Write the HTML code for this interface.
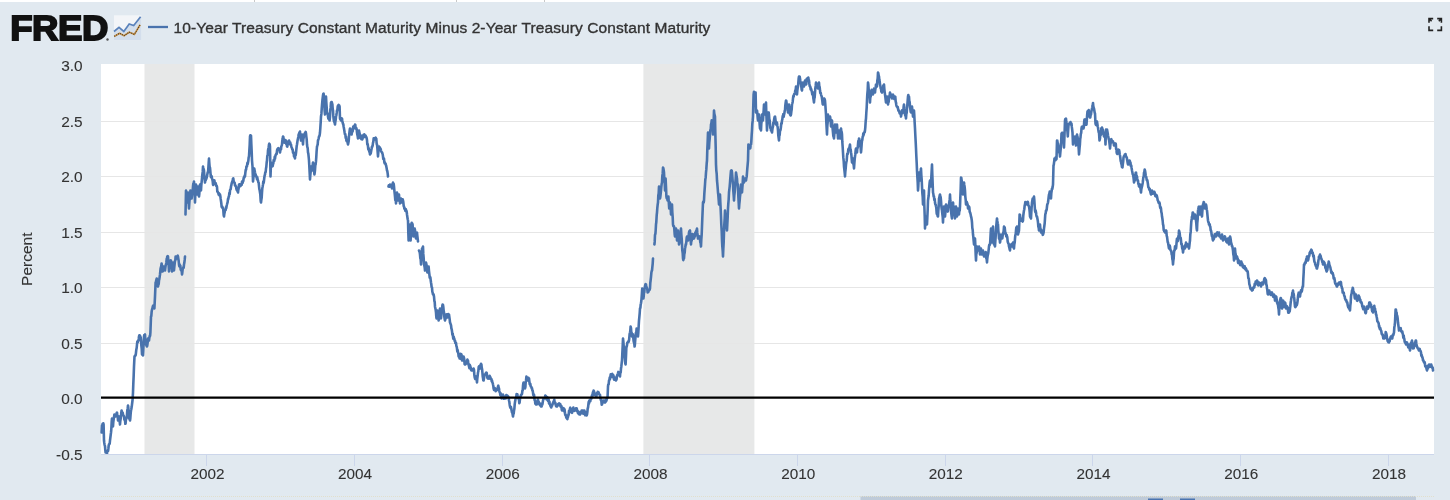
<!DOCTYPE html>
<html><head><meta charset="utf-8"><title>FRED</title>
<style>
html,body{margin:0;padding:0;}
body{width:1450px;height:500px;overflow:hidden;background:#e1e9f0;position:relative;font-family:"Liberation Sans",sans-serif;}
.top{position:absolute;left:0;top:0;width:1450px;height:2px;background:#fff;}
</style></head><body>
<div class="top"></div><div style="position:absolute;left:254px;top:0;width:1px;height:2px;background:#c8c8c8"></div><div style="position:absolute;left:456px;top:0;width:1px;height:2px;background:#c8c8c8"></div><div style="position:absolute;left:544px;top:0;width:1px;height:2px;background:#c8c8c8"></div>
<svg width="1450" height="500" viewBox="0 0 1450 500" style="position:absolute;left:0;top:0"><rect x="101" y="64" width="1333" height="390" fill="#ffffff"/><rect x="144.5" y="64" width="50" height="390" fill="#e7e8e8"/><rect x="643.4" y="64" width="111" height="390" fill="#e7e8e8"/><line x1="101" x2="1434" y1="121.5" y2="121.5" stroke="#e6e6e6" stroke-width="1"/><line x1="101" x2="1434" y1="176.5" y2="176.5" stroke="#e6e6e6" stroke-width="1"/><line x1="101" x2="1434" y1="232.5" y2="232.5" stroke="#e6e6e6" stroke-width="1"/><line x1="101" x2="1434" y1="287.5" y2="287.5" stroke="#e6e6e6" stroke-width="1"/><line x1="101" x2="1434" y1="343.5" y2="343.5" stroke="#e6e6e6" stroke-width="1"/><path d="M101.6,432.5 L102.0,425.5 L102.3,424.7 L102.6,423.8 L103.0,425.4 L103.3,423.2 L103.6,424.5 L104.0,440.5 L104.3,443.0 L104.6,444.8 L105.0,446.1 L105.3,450.1 L105.6,452.5 L105.9,451.1 L106.3,452.8 L106.7,451.7 L107.0,453.5 L107.3,450.8 L107.7,450.7 L108.1,450.9 L108.4,448.5 L108.7,445.5 L109.0,444.3 L109.4,444.2 L109.7,443.7 L110.0,440.5 L110.3,438.1 L110.7,434.8 L111.0,432.5 L111.3,429.5 L111.7,421.5 L112.0,418.5 L112.3,422.5 L112.7,423.1 L113.0,426.5 L113.3,422.2 L113.7,419.1 L114.1,416.8 L114.4,414.5 L114.8,416.3 L115.2,414.7 L115.6,416.5 L115.9,415.8 L116.3,415.0 L116.7,413.0 L117.0,412.5 L117.3,415.3 L117.7,416.3 L118.0,420.5 L118.3,417.6 L118.7,416.8 L119.0,416.5 L119.3,419.8 L119.7,421.6 L120.0,424.5 L120.3,421.0 L120.6,419.2 L121.0,415.9 L121.3,412.6 L121.6,410.5 L121.9,412.6 L122.3,413.2 L122.7,412.6 L123.0,414.5 L123.3,415.4 L123.7,415.9 L124.0,416.5 L124.3,419.3 L124.6,420.1 L125.0,419.9 L125.3,423.8 L125.6,423.5 L125.9,419.9 L126.3,418.7 L126.7,417.7 L127.0,414.5 L127.3,410.2 L127.7,408.5 L128.0,405.5 L128.3,407.5 L128.7,413.4 L129.0,416.5 L129.3,418.8 L129.7,419.4 L130.0,420.5 L130.3,418.5 L130.7,413.2 L131.0,410.5 L131.3,409.2 L131.7,406.8 L132.0,404.5 L132.6,399.5 L133.0,392.5 L133.3,384.1 L133.7,375.0 L134.0,366.5 L134.5,356.5 L135.0,355.5 L135.3,355.7 L135.7,355.1 L136.0,352.5 L136.3,349.7 L136.7,347.8 L137.0,344.5 L137.3,341.6 L137.7,342.6 L138.0,341.0 L138.3,340.9 L138.7,339.0 L139.0,336.5 L139.3,335.4 L139.7,335.4 L140.0,335.5 L140.3,337.8 L140.7,337.1 L141.0,340.5 L141.3,345.0 L141.7,348.6 L142.0,354.5 L142.3,353.5 L142.7,353.6 L143.0,355.5 L143.3,350.1 L143.7,341.5 L144.0,336.5 L144.3,334.9 L144.7,334.8 L145.0,334.5 L145.3,339.2 L145.7,339.7 L146.0,344.5 L146.3,345.0 L146.7,346.0 L147.0,346.5 L147.3,345.2 L147.7,342.3 L148.0,338.5 L148.3,340.5 L148.7,339.0 L149.0,340.5 L149.3,338.2 L149.7,336.0 L150.1,335.9 L150.4,332.5 L151.0,316.5 L151.3,316.1 L151.7,311.2 L152.1,309.3 L152.4,308.5 L152.8,306.5 L153.2,305.5 L153.6,305.5 L154.0,306.9 L154.4,308.5 L155.0,296.5 L155.6,282.5 L155.9,282.1 L156.3,280.1 L156.7,278.5 L157.0,279.5 L157.3,281.5 L157.7,283.7 L158.0,286.5 L158.3,284.7 L158.7,284.1 L159.0,280.5 L159.3,279.2 L159.7,276.6 L160.0,274.5 L160.6,268.5 L160.9,267.3 L161.3,265.8 L161.6,263.5 L162.0,265.9 L162.4,271.5 L162.8,271.3 L163.2,269.2 L163.6,266.5 L163.9,268.8 L164.3,269.6 L164.7,269.1 L165.0,270.5 L165.3,268.1 L165.7,265.1 L166.0,264.5 L166.3,263.0 L166.7,258.9 L167.0,258.5 L167.3,256.3 L167.7,256.1 L168.0,256.5 L168.3,260.3 L168.7,265.9 L169.0,271.5 L169.3,267.6 L169.7,265.0 L170.0,264.5 L170.3,261.9 L170.7,260.4 L171.0,260.5 L171.3,263.7 L171.7,266.1 L172.0,271.5 L172.3,269.8 L172.7,265.9 L173.0,262.5 L173.3,263.9 L173.7,266.9 L174.0,270.5 L174.3,267.2 L174.6,264.4 L175.0,260.7 L175.3,260.6 L175.6,256.5 L175.9,258.8 L176.3,257.4 L176.7,257.9 L177.0,258.5 L177.3,256.3 L177.7,255.7 L178.0,256.5 L178.3,258.6 L178.7,261.0 L179.0,264.5 L179.3,266.4 L179.7,264.6 L180.0,266.5 L180.3,265.4 L180.7,269.5 L181.0,268.5 L181.3,270.6 L181.7,271.2 L182.0,274.5 L182.3,272.7 L182.7,268.8 L183.0,268.5 L183.3,267.3 L183.7,267.6 L184.0,264.5 L184.3,263.1 L184.7,259.9 L185.0,256.5 M185.5,214.5 L186.0,190.5 L186.3,193.6 L186.7,198.0 L187.0,202.5 L187.3,198.0 L187.7,196.8 L188.0,192.5 L188.3,198.0 L188.7,204.2 L189.0,208.5 L189.3,203.4 L189.7,198.5 L190.1,196.1 L190.4,190.5 L190.8,194.9 L191.2,197.1 L191.6,198.5 L191.9,196.6 L192.3,193.6 L192.7,190.4 L193.0,186.5 L193.3,183.8 L193.7,183.2 L194.0,181.5 L194.3,188.0 L194.7,193.8 L195.0,202.5 L195.3,194.8 L195.7,189.7 L196.0,184.5 L196.3,187.0 L196.7,191.9 L197.0,194.5 L197.3,193.5 L197.7,189.0 L198.0,186.5 L198.3,191.4 L198.7,194.9 L199.0,196.5 L199.3,194.1 L199.7,188.0 L200.0,184.5 L200.3,185.5 L200.7,187.5 L201.0,190.5 L201.3,185.4 L201.7,181.4 L202.0,178.5 L202.3,174.9 L202.7,171.9 L203.0,166.5 L203.3,169.1 L203.7,169.1 L204.0,170.5 L204.3,175.1 L204.7,179.6 L205.0,182.5 L205.3,179.7 L205.7,180.4 L206.0,178.5 L206.3,179.0 L206.7,177.5 L207.0,176.4 L207.3,174.4 L207.7,172.3 L208.0,172.5 L208.3,168.9 L208.7,162.6 L209.0,158.5 L209.3,162.8 L209.6,166.6 L210.0,167.7 L210.3,170.9 L210.6,174.5 L210.9,177.1 L211.3,177.3 L211.7,176.3 L212.0,178.5 L212.3,179.2 L212.7,181.2 L213.0,184.5 L213.3,185.0 L213.7,183.6 L214.1,180.2 L214.4,180.5 L214.7,182.5 L215.0,183.8 L215.4,183.5 L215.7,183.2 L216.0,184.5 L216.3,186.0 L216.7,185.8 L217.0,186.8 L217.3,191.5 L217.7,191.7 L218.0,192.5 L218.3,192.9 L218.7,194.7 L219.0,193.3 L219.3,195.2 L219.7,195.3 L220.0,194.5 L220.3,195.9 L220.6,198.4 L221.0,201.0 L221.3,203.2 L221.6,206.5 L221.9,207.3 L222.3,206.6 L222.7,207.7 L223.0,208.5 L223.3,209.8 L223.7,215.3 L224.0,216.5 L224.3,214.0 L224.7,212.3 L225.0,210.5 L225.3,209.8 L225.7,210.0 L226.0,207.2 L226.3,208.0 L226.7,205.5 L227.0,204.5 L227.3,203.3 L227.7,201.9 L228.0,198.8 L228.3,199.0 L228.7,196.7 L229.0,196.5 L229.3,193.0 L229.7,194.2 L230.0,190.3 L230.3,189.7 L230.7,189.0 L231.0,186.5 L231.3,185.4 L231.7,183.2 L232.0,182.6 L232.3,181.4 L232.7,180.9 L233.0,178.5 L233.3,178.4 L233.7,181.4 L234.0,182.5 L234.3,182.3 L234.7,183.0 L235.0,185.5 L235.3,185.2 L235.7,186.1 L236.0,186.5 L236.3,188.4 L236.7,190.0 L237.0,189.3 L237.3,190.9 L237.7,191.5 L238.0,192.5 L238.3,189.9 L238.7,187.9 L239.0,184.5 L239.3,184.3 L239.7,184.6 L240.0,184.4 L240.3,186.1 L240.7,185.2 L241.0,184.5 L241.3,185.2 L241.7,184.8 L242.0,181.6 L242.3,182.0 L242.7,182.8 L243.0,180.5 L243.3,181.1 L243.7,177.9 L244.0,177.1 L244.3,177.6 L244.7,175.6 L245.0,176.5 L245.3,173.1 L245.7,170.0 L246.1,169.6 L246.4,166.5 L246.7,166.7 L247.0,166.3 L247.4,162.9 L247.7,164.1 L248.0,162.5 L248.3,161.1 L248.7,157.2 L249.0,156.5 L249.3,151.2 L249.7,144.8 L250.0,136.5 L250.3,135.2 L250.7,137.5 L251.0,135.5 L251.3,143.5 L251.7,152.1 L252.0,160.5 L252.5,166.5 L253.0,181.5 L253.3,178.9 L253.7,174.0 L254.0,168.5 L254.3,168.6 L254.7,170.9 L255.0,172.5 L255.3,173.9 L255.7,174.6 L256.0,176.5 L256.3,176.1 L256.7,177.2 L257.0,179.3 L257.3,177.4 L257.7,180.0 L258.0,180.5 L258.3,182.3 L258.7,182.8 L259.0,185.9 L259.3,188.9 L259.7,190.5 L260.0,192.5 L260.3,194.3 L260.7,200.9 L261.0,202.5 L261.3,200.2 L261.7,197.5 L262.0,192.5 L262.3,188.4 L262.7,186.3 L263.0,184.5 L263.3,181.5 L263.7,182.8 L264.0,180.5 L264.3,177.7 L264.7,175.2 L265.0,174.5 L265.3,172.2 L265.7,172.0 L266.0,168.5 L266.3,167.0 L266.7,162.3 L267.0,160.5 L267.3,155.9 L267.7,155.3 L268.0,150.5 L268.3,148.8 L268.7,147.2 L269.0,144.5 L269.3,143.7 L269.7,144.2 L270.0,146.5 L270.5,176.5 L271.0,162.5 L271.3,164.5 L271.7,164.9 L272.0,166.5 L272.3,164.0 L272.7,166.1 L273.0,164.0 L273.3,163.6 L273.7,160.0 L274.0,160.5 L274.3,160.8 L274.7,156.9 L275.0,158.8 L275.3,156.3 L275.7,154.9 L276.0,154.5 L276.3,153.7 L276.7,154.0 L277.0,150.7 L277.3,149.2 L277.7,149.6 L278.0,148.5 L278.3,148.2 L278.7,148.4 L279.0,149.3 L279.3,149.5 L279.7,150.8 L280.0,152.5 L280.3,150.5 L280.7,149.1 L281.0,149.4 L281.3,146.4 L281.7,145.8 L282.0,144.5 L282.3,140.7 L282.7,138.6 L283.0,136.5 L283.3,136.8 L283.7,139.6 L284.0,142.5 L284.3,140.4 L284.7,142.7 L285.0,141.7 L285.3,140.0 L285.7,140.7 L286.0,140.5 L286.3,144.1 L286.7,143.1 L287.0,146.5 L287.3,146.6 L287.7,144.3 L288.0,143.5 L288.3,143.7 L288.7,141.1 L289.0,140.5 L289.3,141.2 L289.7,142.5 L290.0,144.2 L290.3,142.6 L290.7,145.0 L291.0,144.5 L291.3,146.6 L291.7,147.7 L292.0,148.2 L292.3,149.3 L292.7,149.6 L293.0,152.5 L293.3,152.2 L293.7,153.0 L294.0,156.4 L294.3,155.6 L294.7,156.3 L295.0,158.5 L295.3,154.7 L295.7,155.1 L296.0,152.8 L296.3,149.8 L296.7,146.0 L297.0,144.5 L297.4,141.6 L297.7,139.8 L298.0,138.4 L298.4,136.5 L298.7,134.3 L299.0,134.3 L299.4,132.6 L299.7,134.2 L300.0,131.5 L300.3,136.2 L300.7,137.7 L301.0,140.5 L301.3,137.6 L301.7,138.2 L302.0,134.5 L302.3,137.1 L302.7,140.7 L303.0,144.5 L303.3,139.4 L303.7,137.4 L304.0,134.5 L304.3,134.2 L304.7,134.2 L305.0,132.9 L305.3,133.9 L305.7,131.9 L306.0,133.5 L306.3,136.3 L306.7,139.4 L307.0,144.5 L307.3,146.8 L307.7,148.2 L308.0,152.5 L308.3,153.4 L308.7,157.1 L309.0,160.5 L309.3,165.9 L309.7,173.5 L310.0,179.5 L310.3,175.3 L310.7,171.7 L311.0,166.5 L311.3,168.4 L311.7,169.9 L312.0,170.5 L312.3,169.2 L312.7,164.8 L313.0,162.5 L313.4,164.9 L313.7,170.2 L314.0,170.2 L314.4,174.5 L314.7,172.8 L315.0,170.0 L315.3,165.4 L315.6,164.5 L316.0,161.2 L316.3,156.9 L316.6,151.5 L317.0,146.5 L317.3,145.7 L317.7,144.3 L318.0,140.2 L318.3,139.9 L318.7,138.2 L319.0,136.5 L319.3,136.4 L319.7,134.9 L320.0,132.5 L320.3,128.3 L320.7,122.1 L321.0,116.5 L321.4,113.9 L321.7,109.2 L322.0,105.2 L322.4,100.5 L322.7,97.8 L323.0,95.3 L323.3,93.9 L323.6,93.5 L324.0,98.2 L324.3,102.6 L324.6,110.5 L325.0,114.5 L325.3,108.7 L325.7,103.0 L326.0,96.5 L326.3,102.3 L326.7,107.8 L327.0,112.5 L327.3,113.8 L327.7,113.4 L328.0,116.5 L328.3,118.4 L328.6,119.0 L329.0,118.9 L329.3,119.8 L329.6,120.5 L330.0,116.6 L330.3,109.9 L330.6,107.9 L331.0,102.5 L331.4,102.1 L331.7,102.0 L332.0,103.2 L332.4,104.5 L332.7,108.8 L333.0,110.4 L333.3,115.9 L333.6,118.5 L334.0,121.7 L334.3,121.5 L334.6,122.6 L335.0,124.5 L335.3,121.8 L335.7,119.8 L336.0,116.5 L336.3,115.5 L336.7,112.9 L337.0,110.5 L337.4,109.8 L337.7,106.5 L338.0,105.5 L338.4,105.5 L338.7,104.9 L339.0,106.9 L339.3,105.5 L339.6,106.5 L340.0,118.5 L340.3,119.4 L340.7,118.1 L341.0,120.5 L341.3,118.3 L341.7,118.3 L342.0,118.5 L342.3,120.7 L342.6,122.4 L343.0,123.9 L343.3,124.1 L343.6,126.5 L344.0,128.6 L344.3,130.4 L344.6,132.4 L345.0,134.5 L345.3,134.1 L345.7,137.9 L346.0,136.4 L346.3,140.2 L346.7,141.1 L347.0,140.5 L347.3,140.1 L347.7,143.0 L348.0,144.5 L348.3,143.0 L348.7,140.9 L349.0,136.5 L349.3,133.7 L349.7,130.3 L350.0,128.5 L350.3,128.7 L350.6,132.5 L351.0,131.1 L351.3,133.6 L351.6,134.5 L352.0,131.7 L352.3,131.6 L352.6,131.6 L353.0,128.5 L353.3,126.5 L353.7,128.3 L354.0,126.5 L354.3,127.2 L354.7,125.9 L355.0,124.5 L355.3,124.9 L355.7,128.6 L356.0,128.5 L356.3,128.1 L356.7,129.4 L357.0,132.5 L357.3,134.5 L357.7,136.3 L358.0,138.5 L358.3,135.1 L358.7,131.9 L359.0,130.5 L359.3,131.9 L359.7,133.8 L360.0,136.5 L360.3,138.1 L360.7,135.4 L361.0,138.4 L361.3,139.1 L361.7,136.8 L362.0,138.5 L362.3,139.4 L362.7,137.9 L363.0,137.9 L363.3,135.1 L363.7,134.7 L364.0,134.5 L364.3,134.4 L364.7,137.0 L365.0,135.8 L365.3,135.3 L365.7,135.9 L366.0,136.5 L366.3,137.4 L366.7,138.2 L367.0,140.1 L367.3,144.4 L367.7,144.1 L368.0,146.5 L368.3,149.4 L368.7,148.3 L369.0,149.7 L369.3,151.9 L369.7,152.1 L370.0,154.5 L370.3,152.7 L370.7,153.5 L371.0,151.9 L371.3,150.3 L371.7,148.3 L372.0,146.5 L372.3,146.7 L372.7,145.4 L373.0,142.7 L373.3,142.0 L373.7,138.2 L374.0,138.5 L374.3,139.3 L374.7,138.3 L375.0,139.4 L375.3,139.0 L375.7,137.7 L376.0,138.5 L376.3,138.9 L376.7,144.0 L377.0,144.5 L377.3,147.2 L377.7,152.4 L378.0,156.5 L378.3,152.6 L378.7,149.1 L379.0,146.5 L379.3,148.0 L379.7,149.5 L380.0,147.6 L380.3,149.7 L380.7,149.1 L381.0,150.5 L381.3,151.7 L381.7,152.1 L382.0,152.3 L382.3,153.3 L382.7,154.4 L383.0,156.5 L383.3,159.0 L383.7,158.5 L384.0,158.5 L384.3,162.0 L384.7,163.3 L385.0,162.5 L385.3,163.7 L385.7,163.9 L386.0,165.4 L386.3,166.4 L386.7,168.6 L387.0,170.5 L387.3,171.0 L387.7,173.6 L388.0,176.5 M388.5,186.5 L388.8,185.2 L389.1,186.0 L389.4,186.7 L389.7,185.8 L390.0,184.5 L390.3,184.9 L390.7,185.5 L391.0,186.6 L391.3,186.7 L391.7,187.3 L392.0,188.5 L392.3,184.9 L392.7,183.7 L393.0,182.5 L393.3,185.5 L393.7,183.8 L394.0,186.5 L394.3,189.8 L394.7,193.6 L395.0,196.5 L395.3,200.1 L395.7,200.1 L396.0,203.5 L396.3,199.0 L396.7,195.3 L397.0,192.5 L397.3,194.8 L397.7,197.6 L398.0,200.5 L398.3,200.1 L398.7,197.8 L399.0,194.5 L399.3,198.8 L399.7,198.8 L400.0,203.5 L400.3,200.1 L400.7,200.9 L401.0,198.5 L401.3,201.3 L401.7,201.1 L402.0,202.5 L402.3,202.1 L402.7,199.4 L403.0,200.5 L403.3,202.1 L403.7,206.0 L404.0,206.5 L404.3,208.3 L404.7,209.1 L405.0,208.5 L405.3,210.9 L405.7,208.9 L406.0,210.5 L406.3,210.4 L406.7,211.9 L407.0,214.5 L407.3,216.6 L407.7,219.2 L408.0,220.5 L408.3,232.1 L408.6,240.5 L409.0,233.3 L409.4,224.5 L409.7,229.0 L410.0,233.5 L410.3,236.3 L410.6,240.5 L411.0,232.7 L411.4,224.5 L411.7,222.8 L412.0,225.5 L412.3,223.5 L412.6,224.5 L413.0,232.0 L413.4,236.5 L413.7,235.0 L414.0,231.8 L414.3,229.2 L414.6,228.5 L415.0,230.1 L415.3,234.0 L415.6,236.7 L416.0,238.5 L416.3,235.1 L416.7,233.0 L417.0,232.5 L417.3,235.6 L417.7,238.8 L418.0,241.5 M419.0,250.5 L419.3,251.4 L419.7,252.2 L420.0,254.5 L420.3,258.2 L420.7,259.4 L421.0,264.5 L421.3,258.5 L421.7,253.7 L422.0,248.5 L422.3,249.5 L422.7,247.7 L423.0,246.5 L423.3,253.9 L423.7,258.4 L424.0,264.5 L424.3,265.5 L424.7,267.6 L425.0,270.5 L425.3,269.5 L425.7,265.9 L426.0,262.5 L426.4,264.3 L426.7,265.8 L427.0,270.0 L427.4,272.5 L427.7,271.6 L428.0,269.2 L428.3,267.1 L428.6,266.5 L429.0,271.1 L429.4,274.5 L429.7,277.6 L430.0,276.7 L430.4,277.6 L430.7,280.3 L431.0,282.5 L431.3,284.2 L431.6,287.2 L432.0,287.4 L432.3,291.6 L432.6,292.5 L433.0,294.4 L433.3,294.5 L433.6,294.4 L434.0,296.5 L434.4,301.2 L434.7,301.8 L435.0,306.7 L435.4,308.5 L435.7,310.0 L436.0,312.5 L436.3,316.9 L436.6,318.5 L437.0,313.8 L437.4,310.5 L437.7,314.6 L438.0,315.5 L438.3,316.9 L438.6,320.5 L439.0,316.5 L439.3,314.2 L439.6,312.1 L440.0,308.5 L440.3,313.4 L440.7,313.9 L441.0,318.5 L441.3,315.3 L441.6,311.9 L442.0,311.8 L442.3,306.0 L442.6,304.5 L443.0,304.9 L443.3,306.9 L443.6,310.1 L444.0,312.5 L444.3,316.6 L444.7,319.2 L445.0,320.5 L445.3,319.3 L445.7,318.3 L446.0,314.5 L446.3,316.4 L446.7,314.6 L447.0,314.4 L447.3,317.4 L447.7,317.1 L448.0,316.5 L448.3,314.1 L448.7,315.8 L449.0,314.5 L449.3,316.7 L449.7,319.4 L450.0,322.5 L450.4,323.4 L450.7,324.3 L451.0,325.2 L451.4,328.5 L451.7,329.3 L452.0,331.2 L452.4,334.9 L452.7,333.5 L453.0,336.5 L453.3,338.8 L453.7,336.8 L454.0,338.5 L454.3,338.7 L454.7,341.0 L455.0,340.5 L455.3,343.0 L455.7,342.9 L456.0,342.9 L456.3,345.7 L456.7,346.7 L457.0,348.5 L457.3,351.3 L457.7,350.1 L458.0,352.5 L458.3,353.2 L458.6,356.3 L459.0,354.4 L459.3,357.0 L459.6,358.5 L460.0,358.6 L460.3,357.5 L460.6,353.8 L461.0,354.5 L461.4,354.3 L461.7,355.9 L462.0,360.5 L462.4,360.5 L462.7,358.6 L463.0,359.4 L463.3,358.9 L463.6,356.5 L464.0,357.9 L464.3,359.7 L464.6,364.1 L465.0,364.5 L465.4,364.4 L465.7,362.6 L466.0,363.8 L466.4,362.5 L466.7,361.4 L467.0,360.9 L467.4,359.5 L467.7,361.8 L468.0,360.5 L468.3,364.0 L468.7,365.0 L469.0,366.5 L469.4,368.1 L469.7,364.8 L470.0,365.5 L470.4,366.5 L470.7,367.2 L471.0,369.7 L471.4,370.5 L471.7,369.3 L472.0,370.5 L472.3,369.2 L472.6,369.4 L473.0,369.3 L473.3,370.4 L473.6,368.5 L474.0,369.9 L474.3,374.6 L474.6,376.9 L475.0,378.5 L475.3,379.0 L475.7,378.1 L476.0,376.5 L476.3,378.9 L476.7,379.9 L477.0,382.5 L477.3,378.5 L477.7,375.3 L478.0,372.5 L478.3,371.5 L478.7,367.0 L479.0,366.5 L479.3,366.1 L479.7,368.7 L480.0,368.5 L480.4,366.6 L480.7,364.9 L481.0,363.8 L481.4,364.5 L481.7,367.4 L482.1,369.2 L482.4,372.5 L482.7,376.2 L483.0,377.9 L483.3,380.3 L483.6,380.5 L484.0,378.2 L484.3,376.0 L484.6,374.5 L485.0,374.5 L485.4,374.0 L485.7,374.3 L486.0,372.8 L486.4,372.5 L486.7,373.0 L487.0,375.2 L487.3,377.4 L487.6,378.5 L488.0,378.6 L488.3,378.4 L488.6,378.2 L489.0,376.5 L489.3,377.4 L489.7,375.8 L490.0,378.7 L490.3,377.1 L490.7,378.4 L491.0,378.5 L491.4,379.0 L491.7,381.4 L492.0,380.4 L492.4,382.5 L492.7,383.1 L493.0,384.6 L493.3,385.8 L493.6,388.5 L494.0,389.9 L494.3,388.8 L494.6,387.9 L495.0,388.5 L495.4,388.6 L495.7,391.3 L496.0,390.0 L496.4,390.5 L496.7,388.7 L497.0,390.0 L497.4,388.7 L497.7,389.1 L498.0,386.5 L498.3,385.7 L498.7,387.7 L499.0,388.5 L499.3,391.0 L499.7,392.4 L500.0,392.5 L500.3,395.2 L500.6,393.2 L501.0,395.4 L501.3,395.9 L501.6,398.5 L502.0,396.4 L502.3,398.2 L502.6,395.8 L503.0,394.5 L503.4,397.0 L503.7,396.0 L504.0,398.8 L504.4,398.5 L504.7,397.9 L505.0,396.8 L505.4,398.3 L505.7,398.5 L506.0,396.5 L506.3,395.1 L506.7,396.8 L507.0,396.9 L507.3,395.5 L507.7,396.0 L508.0,396.5 L508.3,396.5 L508.7,398.1 L509.0,400.5 L509.3,401.6 L509.7,404.9 L510.0,406.5 L510.3,407.8 L510.6,407.0 L511.0,407.1 L511.3,409.1 L511.6,410.5 L512.0,412.6 L512.3,412.4 L512.6,414.3 L513.0,416.5 L513.4,413.4 L513.7,413.6 L514.0,410.7 L514.4,408.5 L514.7,404.4 L515.0,402.1 L515.3,400.6 L515.6,398.5 L516.0,397.7 L516.3,397.0 L516.6,394.0 L517.0,394.5 L517.4,394.3 L517.7,397.2 L518.0,397.2 L518.4,398.5 L518.7,398.7 L519.0,399.8 L519.3,403.1 L519.6,402.5 L520.0,398.8 L520.4,396.5 L520.7,396.2 L521.0,395.0 L521.3,394.7 L521.6,394.5 L522.0,393.8 L522.4,390.5 L522.7,390.3 L523.0,386.0 L523.3,383.4 L523.6,382.5 L524.0,384.8 L524.3,384.4 L524.6,385.2 L525.0,388.5 L525.4,386.9 L525.7,382.2 L526.0,380.7 L526.4,376.5 L526.7,377.2 L527.0,379.9 L527.3,379.4 L527.6,380.5 L528.0,378.8 L528.3,377.8 L528.6,379.2 L529.0,378.5 L529.3,381.0 L529.7,384.0 L530.0,384.5 L530.3,383.7 L530.7,386.3 L531.0,386.5 L531.4,387.0 L531.7,388.5 L532.0,388.2 L532.4,390.5 L532.7,390.7 L533.0,392.6 L533.3,395.0 L533.6,394.5 L534.0,394.6 L534.3,397.5 L534.6,400.1 L535.0,400.5 L535.3,403.5 L535.7,402.1 L536.0,404.5 L536.3,402.4 L536.6,404.5 L537.0,403.8 L537.3,401.2 L537.6,400.5 L538.0,399.4 L538.3,403.0 L538.6,401.6 L539.0,402.5 L539.4,404.5 L539.7,403.9 L540.0,405.2 L540.4,404.5 L540.7,403.8 L541.0,406.5 L541.3,405.0 L541.6,406.5 L542.0,404.7 L542.3,404.7 L542.6,403.2 L543.0,400.5 L543.4,398.9 L543.7,398.5 L544.0,398.6 L544.4,398.5 L544.7,398.1 L545.0,397.1 L545.3,395.6 L545.6,396.5 L546.0,396.1 L546.3,398.3 L546.6,399.4 L547.0,398.5 L547.4,397.3 L547.7,399.7 L548.0,400.9 L548.4,400.5 L548.7,399.6 L549.0,403.3 L549.4,401.5 L549.7,404.1 L550.0,404.5 L550.3,405.4 L550.6,406.5 L550.9,406.1 L551.2,407.5 L551.6,406.2 L552.0,405.8 L552.4,404.5 L552.7,403.4 L553.0,403.5 L553.4,401.9 L553.7,401.1 L554.0,400.5 L554.3,399.6 L554.6,402.5 L555.0,402.9 L555.3,402.7 L555.6,404.5 L556.0,405.9 L556.3,406.5 L556.6,405.8 L557.0,406.5 L557.3,405.0 L557.7,405.7 L558.0,404.1 L558.3,403.8 L558.7,404.6 L559.0,404.5 L559.3,403.4 L559.7,405.0 L560.0,405.5 L560.3,404.2 L560.7,406.7 L561.0,406.5 L561.4,406.0 L561.7,409.3 L562.0,410.5 L562.4,410.5 L562.7,410.1 L563.0,408.1 L563.4,409.3 L563.7,408.5 L564.0,408.5 L564.3,411.3 L564.6,409.6 L565.0,413.4 L565.3,415.1 L565.6,414.5 L566.0,416.3 L566.3,417.6 L566.6,416.4 L567.0,418.5 L567.4,419.2 L567.7,416.5 L568.0,417.1 L568.4,414.5 L568.7,414.8 L569.0,410.9 L569.4,411.9 L569.7,411.3 L570.0,408.5 L570.3,407.7 L570.6,409.6 L571.0,411.8 L571.3,410.5 L571.6,412.5 L572.0,412.9 L572.3,409.7 L572.6,410.6 L573.0,408.5 L573.3,407.6 L573.7,409.2 L574.0,411.0 L574.3,408.8 L574.7,409.3 L575.0,410.5 L575.3,410.4 L575.7,409.5 L576.0,408.3 L576.3,408.7 L576.7,408.4 L577.0,409.5 L577.4,411.8 L577.7,411.6 L578.0,413.2 L578.4,412.5 L578.7,411.7 L579.0,414.3 L579.4,412.3 L579.7,414.2 L580.0,414.5 L580.3,414.2 L580.6,412.4 L581.0,413.4 L581.3,411.5 L581.6,410.5 L582.0,411.3 L582.3,412.9 L582.6,410.6 L583.0,412.5 L583.4,413.8 L583.7,412.0 L584.0,410.6 L584.4,410.5 L584.7,412.6 L585.0,411.7 L585.3,415.3 L585.6,414.5 L586.0,414.8 L586.3,414.0 L586.6,415.5 L587.0,414.5 L587.4,411.8 L587.7,408.3 L588.0,407.9 L588.4,404.5 L588.7,401.9 L589.0,403.7 L589.3,400.6 L589.6,400.5 L590.0,400.5 L590.3,401.2 L590.6,399.3 L591.0,398.5 L591.4,398.6 L591.7,396.8 L592.0,395.2 L592.4,396.5 L592.7,393.3 L593.0,392.2 L593.3,392.4 L593.6,390.5 L594.0,391.3 L594.3,392.5 L594.6,394.9 L595.0,394.5 L595.4,393.7 L595.7,394.5 L596.0,396.6 L596.4,396.5 L596.7,394.0 L597.0,393.1 L597.4,393.6 L597.7,391.9 L598.0,392.5 L598.3,392.4 L598.6,392.3 L599.0,394.0 L599.3,394.4 L599.6,394.5 L600.0,394.9 L600.3,397.9 L600.6,398.9 L601.0,400.5 L601.3,400.5 L601.7,404.7 L602.0,404.5 L602.3,402.8 L602.6,401.6 L603.0,400.6 L603.3,401.8 L603.6,400.5 L604.0,402.3 L604.3,402.5 L604.6,401.6 L605.0,402.5 L605.4,401.2 L605.7,399.7 L606.0,401.5 L606.4,400.5 L606.7,399.7 L607.0,398.0 L607.3,398.0 L607.6,396.5 L608.0,386.5 L608.3,384.3 L608.7,384.1 L609.0,380.5 L609.4,380.3 L609.7,377.6 L610.0,379.0 L610.4,376.5 L610.7,374.4 L611.0,375.6 L611.3,374.7 L611.6,374.5 L612.0,374.1 L612.3,373.9 L612.6,377.0 L613.0,376.5 L613.4,375.2 L613.7,377.7 L614.0,379.6 L614.4,378.5 L614.7,377.6 L615.0,378.2 L615.4,380.1 L615.7,380.1 L616.0,380.5 L616.3,379.8 L616.6,379.2 L617.0,375.7 L617.3,375.0 L617.6,374.5 L618.0,373.3 L618.3,371.9 L618.6,374.4 L619.0,372.5 L619.3,374.9 L619.7,375.9 L620.0,376.5 L620.3,372.1 L620.7,372.4 L621.0,368.5 L621.3,366.7 L621.7,363.0 L622.0,360.5 L622.3,354.0 L622.7,345.7 L623.0,338.5 L623.4,342.0 L623.7,346.1 L624.0,351.0 L624.4,356.5 L624.7,356.8 L625.0,359.9 L625.3,363.4 L625.6,364.5 L626.0,356.2 L626.4,346.5 L626.7,346.7 L627.0,345.3 L627.3,342.7 L627.6,342.5 L628.0,342.2 L628.3,341.3 L628.6,342.0 L629.0,340.5 L629.3,337.8 L629.6,334.1 L630.0,332.6 L630.3,331.0 L630.6,326.5 L631.0,328.0 L631.3,332.9 L631.6,332.3 L632.0,336.5 L632.3,335.0 L632.7,334.2 L633.0,334.5 L633.3,337.8 L633.6,340.9 L634.0,342.6 L634.3,343.5 L634.6,346.5 L634.9,344.5 L635.3,339.2 L635.6,336.5 L635.9,332.9 L636.3,332.6 L636.6,328.5 L637.0,331.0 L637.3,333.2 L637.6,335.1 L638.0,336.5 L638.3,332.9 L638.7,325.7 L639.0,320.5 L639.3,317.7 L639.7,313.2 L640.0,308.5 L640.4,307.8 L640.7,304.3 L641.0,303.3 L641.4,300.5 L641.8,294.8 L642.2,288.5 L642.6,291.1 L643.0,294.1 L643.4,298.5 L643.7,296.4 L644.0,292.0 L644.3,292.5 L644.6,288.5 L645.0,286.2 L645.3,284.8 L645.6,284.1 L646.0,284.5 L646.3,287.6 L646.6,287.1 L647.0,288.0 L647.3,289.2 L647.6,292.5 L647.9,290.2 L648.3,291.9 L648.6,290.5 L649.0,290.5 L649.3,290.2 L649.6,289.9 L650.0,288.5 L650.3,282.9 L650.6,280.5 L651.0,276.8 L651.4,272.5 L651.7,271.0 L652.0,270.5 L652.3,267.6 L652.7,263.7 L653.0,258.5 M654.4,244.5 L654.7,241.9 L655.0,234.9 L655.4,233.8 L655.7,230.0 L656.0,224.5 L656.3,222.1 L656.7,215.1 L657.0,212.5 L657.3,208.1 L657.7,204.4 L658.0,202.5 L658.3,195.5 L658.7,193.1 L659.0,186.5 L659.3,191.6 L659.7,195.0 L660.0,198.5 L660.3,197.0 L660.7,193.6 L661.0,190.5 L661.3,187.1 L661.7,183.7 L662.0,182.5 L662.3,176.1 L662.7,173.4 L663.0,167.5 L663.3,168.1 L663.7,170.2 L664.0,172.5 L664.3,178.2 L664.7,182.8 L665.0,190.5 L665.3,183.6 L665.6,178.5 L666.0,186.7 L666.4,196.5 L666.7,198.3 L667.0,198.0 L667.3,198.9 L667.6,200.5 L668.0,200.2 L668.4,196.5 L668.8,202.5 L669.2,208.5 L669.6,206.8 L670.0,202.5 L670.3,206.9 L670.7,208.8 L671.0,214.5 L671.3,210.9 L671.7,207.6 L672.0,204.5 L672.3,212.1 L672.7,217.3 L673.0,224.5 L673.3,225.9 L673.7,226.0 L674.0,226.5 L674.3,228.8 L674.7,234.5 L675.0,236.5 L675.3,232.4 L675.7,232.3 L676.0,228.5 L676.3,231.3 L676.7,234.7 L677.0,240.5 L677.3,236.1 L677.7,234.8 L678.0,230.5 L678.3,236.9 L678.7,238.0 L679.0,244.5 L679.3,243.1 L679.7,241.8 L680.0,240.5 L680.3,237.6 L680.7,231.4 L681.0,228.5 L681.3,233.8 L681.7,238.6 L682.0,244.5 L682.3,250.4 L682.7,253.0 L683.0,258.5 L683.3,260.1 L683.7,257.7 L684.0,258.5 L684.3,254.1 L684.7,252.6 L685.0,248.5 L685.3,247.2 L685.7,244.4 L686.0,244.5 L686.3,242.3 L686.7,237.7 L687.0,236.5 L687.3,238.9 L687.7,239.9 L688.0,240.5 L688.3,238.9 L688.7,235.6 L689.0,232.5 L689.3,231.3 L689.7,230.8 L690.0,230.5 L690.3,234.8 L690.7,241.2 L691.0,244.5 L691.3,240.3 L691.7,240.6 L692.0,236.5 L692.3,234.1 L692.7,234.1 L693.0,234.5 L693.3,235.0 L693.7,238.6 L694.0,238.5 L694.3,237.3 L694.6,235.7 L695.0,236.3 L695.3,232.7 L695.6,232.5 L696.0,231.4 L696.3,230.6 L696.6,230.4 L697.0,228.5 L697.3,232.7 L697.7,235.7 L698.0,238.5 L698.3,237.6 L698.6,237.1 L699.0,236.1 L699.3,238.1 L699.6,236.5 L700.0,239.6 L700.3,242.4 L700.6,242.8 L701.0,246.5 L701.3,239.6 L701.7,234.2 L702.0,226.5 L702.3,218.8 L702.7,209.2 L703.0,202.5 L703.3,201.7 L703.7,202.6 L704.0,200.5 L704.3,194.2 L704.7,188.7 L705.0,184.5 L705.3,179.8 L705.7,177.2 L706.0,172.5 L706.3,169.7 L706.7,163.3 L707.0,160.5 L707.3,149.9 L707.7,140.9 L708.0,132.5 L708.3,137.2 L708.7,143.2 L709.0,148.5 L709.3,142.6 L709.7,138.5 L710.0,134.5 L710.3,130.0 L710.7,129.5 L711.0,124.5 L711.3,124.0 L711.7,120.4 L712.0,120.5 L712.3,126.8 L712.7,128.4 L713.0,134.5 L713.3,126.1 L713.7,120.2 L714.0,110.5 L714.3,113.6 L714.7,115.3 L715.0,116.5 L715.3,132.3 L715.7,147.4 L716.0,164.5 L716.3,170.3 L716.7,173.8 L717.0,180.5 L717.3,183.4 L717.7,188.1 L718.0,192.5 L718.3,194.8 L718.7,200.1 L719.0,204.5 L719.3,202.2 L719.7,198.5 L720.0,194.5 L720.3,201.8 L720.7,209.6 L721.0,216.5 L721.3,224.4 L721.7,231.2 L722.0,240.5 L722.3,246.2 L722.7,250.8 L723.0,256.5 L723.3,249.4 L723.7,242.0 L724.0,232.5 L724.3,224.9 L724.7,218.1 L725.0,210.5 L725.3,214.7 L725.7,216.9 L726.0,220.5 L726.3,222.9 L726.7,228.0 L727.0,230.5 L727.3,224.5 L727.7,216.8 L728.0,208.5 L728.3,203.9 L728.7,199.1 L729.0,192.5 L729.3,189.8 L729.7,186.3 L730.0,182.5 L730.3,178.3 L730.7,173.8 L731.0,170.5 L731.3,171.6 L731.7,170.4 L732.0,172.5 L732.3,176.2 L732.7,181.5 L733.0,184.5 L733.3,190.6 L733.7,195.6 L734.0,200.5 L734.3,195.6 L734.7,192.2 L735.0,188.5 L735.3,183.0 L735.7,178.3 L736.0,172.5 L736.3,174.2 L736.7,177.1 L737.0,178.5 L737.3,183.4 L737.7,184.0 L738.0,188.5 L738.3,195.7 L738.7,202.8 L739.0,208.5 L739.3,204.1 L739.7,200.5 L740.0,196.5 L740.3,194.2 L740.7,186.8 L741.0,184.5 L741.3,187.3 L741.7,188.6 L742.0,192.5 L742.3,188.2 L742.7,183.4 L743.0,176.5 L743.3,178.6 L743.7,179.1 L744.0,182.5 L744.3,181.4 L744.7,180.0 L745.0,178.5 L745.3,179.9 L745.7,179.9 L746.0,180.5 L746.3,178.3 L746.7,176.4 L747.0,172.5 L747.3,168.6 L747.7,164.2 L748.0,160.5 L748.4,144.5 L748.7,146.9 L749.0,145.1 L749.4,147.6 L749.7,147.3 L750.0,148.5 L750.3,148.1 L750.7,144.5 L751.0,144.5 L751.3,141.6 L751.7,134.6 L752.0,130.5 L752.3,124.2 L752.7,120.4 L753.0,116.5 L753.3,105.1 L753.6,94.5 L754.0,91.7 L754.4,92.5 L754.7,92.2 L755.0,92.2 L755.3,93.2 L755.6,92.5 L756.0,112.5 L756.3,111.3 L756.7,110.3 L757.0,110.5 L757.3,112.8 L757.7,118.0 L758.0,120.5 L758.3,120.1 L758.7,116.6 L759.0,114.5 L759.3,118.2 L759.7,124.9 L760.0,128.5 L760.3,128.8 L760.7,128.8 L761.0,130.5 L761.3,123.8 L761.7,120.8 L762.0,114.5 L762.3,117.6 L762.7,119.0 L763.0,120.5 L763.3,115.1 L763.7,110.1 L764.0,104.5 L764.3,106.8 L764.7,112.8 L765.0,114.5 L765.3,110.0 L765.7,107.0 L766.0,102.5 L766.3,113.0 L766.7,122.3 L767.0,130.5 L767.3,124.4 L767.7,117.8 L768.0,112.5 L768.3,113.3 L768.7,112.5 L769.0,114.5 L769.3,119.0 L769.7,120.6 L770.0,124.5 L770.3,127.8 L770.7,127.7 L771.0,130.5 L771.3,130.7 L771.7,130.9 L772.0,132.5 L772.3,130.2 L772.7,127.4 L773.0,126.5 L773.3,122.7 L773.7,123.3 L774.0,120.5 L774.3,118.4 L774.7,116.9 L775.0,116.5 L775.3,118.5 L775.7,121.8 L776.0,124.5 L776.3,123.6 L776.7,123.7 L777.0,122.5 L777.3,125.7 L777.7,127.3 L778.0,130.5 L778.3,135.4 L778.7,138.4 L779.0,140.5 L779.3,135.6 L779.7,135.0 L780.0,130.5 L780.3,130.6 L780.7,128.9 L781.0,126.5 L781.3,123.2 L781.7,123.7 L782.0,120.5 L782.3,119.6 L782.7,116.1 L783.0,116.5 L783.3,114.1 L783.7,116.8 L784.0,114.5 L784.3,113.7 L784.7,110.9 L785.0,110.5 L785.3,105.7 L785.7,102.5 L786.0,100.5 L786.3,100.9 L786.7,104.2 L787.0,104.5 L787.3,106.6 L787.7,108.6 L788.0,112.5 L788.3,111.3 L788.7,108.2 L789.0,104.5 L789.3,106.6 L789.7,112.6 L790.0,114.5 L790.3,114.9 L790.7,115.5 L791.0,114.5 L791.3,111.8 L791.7,109.3 L792.0,104.5 L792.3,103.5 L792.7,101.7 L793.0,98.5 L793.3,96.1 L793.7,96.5 L794.0,94.5 L794.3,93.9 L794.7,94.0 L795.0,92.5 L795.3,90.3 L795.7,89.9 L796.0,86.5 L796.3,89.4 L796.7,91.0 L797.0,94.5 L797.3,90.9 L797.7,87.9 L798.0,86.5 L798.3,83.1 L798.7,78.2 L799.0,76.5 L799.3,77.0 L799.7,76.6 L800.0,78.5 L800.3,80.5 L800.7,82.5 L801.0,84.5 L801.3,86.6 L801.7,89.8 L802.0,90.5 L802.3,86.1 L802.7,86.4 L803.0,82.5 L803.3,83.7 L803.7,85.4 L804.0,86.5 L804.3,85.1 L804.7,83.7 L805.0,80.5 L805.3,81.4 L805.7,82.9 L806.0,84.5 L806.3,84.2 L806.7,79.0 L807.0,78.5 L807.3,79.0 L807.7,79.0 L808.0,78.5 L808.3,77.5 L808.7,80.2 L809.0,80.5 L809.3,83.2 L809.7,86.1 L810.0,86.5 L810.3,86.6 L810.7,89.6 L811.0,88.5 L811.3,89.9 L811.7,91.1 L812.0,92.5 L812.3,94.6 L812.7,92.2 L813.0,94.5 L813.3,98.0 L813.7,100.3 L814.0,102.5 L814.3,98.6 L814.7,97.1 L815.0,92.5 L815.3,88.7 L815.7,85.7 L816.0,82.5 L816.3,83.3 L816.7,84.8 L817.0,84.5 L817.3,84.8 L817.7,86.9 L818.0,88.5 L818.3,86.2 L818.7,84.7 L819.0,82.5 L819.3,86.3 L819.7,87.1 L820.0,90.5 L820.3,93.0 L820.7,92.8 L821.0,94.5 L821.3,95.8 L821.7,96.3 L822.0,98.5 L822.3,100.5 L822.7,104.2 L823.0,104.5 L823.3,103.1 L823.7,101.6 L824.0,98.5 L824.3,98.6 L824.7,99.2 L825.0,100.5 L825.3,104.4 L825.7,110.1 L826.0,114.5 L826.3,121.7 L826.7,128.9 L827.0,134.5 L827.3,126.2 L827.7,122.0 L828.0,114.5 L828.3,117.9 L828.7,118.7 L829.0,120.5 L829.3,117.5 L829.7,117.1 L830.0,116.5 L830.3,118.1 L830.7,122.1 L831.0,126.5 L831.3,126.0 L831.7,122.9 L832.0,120.5 L832.3,125.1 L832.7,129.5 L833.0,132.5 L833.3,136.0 L833.7,136.9 L834.0,138.5 L834.3,134.3 L834.7,129.6 L835.0,124.5 L835.3,127.9 L835.7,130.2 L836.0,132.5 L836.3,130.5 L836.7,126.1 L837.0,124.5 L837.3,129.8 L837.7,133.7 L838.0,138.5 L838.3,136.8 L838.7,131.7 L839.0,130.5 L839.3,132.0 L839.7,134.2 L840.0,138.5 L840.3,136.2 L840.7,133.3 L841.0,128.5 L841.3,131.1 L841.7,132.0 L842.0,134.5 L842.3,141.7 L842.7,147.5 L843.0,152.5 L843.3,157.4 L843.7,161.0 L844.0,166.5 L844.3,169.1 L844.7,172.9 L845.0,176.5 L845.3,171.8 L845.7,168.3 L846.0,164.5 L846.3,162.3 L846.7,160.7 L847.0,156.5 L847.3,153.6 L847.7,154.1 L848.0,152.5 L848.3,149.5 L848.7,148.5 L849.0,148.5 L849.3,148.3 L849.7,146.1 L850.0,144.5 L850.3,148.7 L850.7,149.6 L851.0,152.5 L851.3,154.1 L851.7,158.8 L852.0,162.5 L852.3,161.5 L852.7,161.4 L853.0,158.5 L853.3,163.6 L853.7,165.1 L854.0,168.5 L854.3,164.2 L854.7,159.1 L855.0,156.5 L855.3,154.4 L855.7,150.1 L856.0,148.5 L856.3,148.6 L856.7,149.4 L857.0,152.5 L857.3,148.1 L857.7,147.8 L858.0,144.5 L858.3,141.1 L858.7,142.2 L859.0,138.5 L859.3,139.0 L859.7,143.8 L860.0,144.5 L860.3,145.8 L860.7,148.1 L861.0,152.5 L861.3,149.3 L861.7,143.6 L862.0,140.5 L862.3,140.0 L862.7,136.7 L863.0,136.5 L863.3,133.5 L863.7,134.8 L864.0,132.5 L864.3,132.6 L864.7,132.4 L865.0,130.5 L865.3,127.3 L865.7,121.0 L866.0,118.5 L866.3,113.0 L866.7,107.3 L867.0,100.5 L867.3,94.4 L867.7,90.1 L868.0,82.5 L868.3,84.3 L868.7,89.5 L869.0,90.5 L869.3,95.3 L869.7,96.7 L870.0,102.5 L870.3,97.4 L870.7,96.4 L871.0,92.5 L871.3,93.0 L871.7,89.7 L872.0,90.5 L872.3,91.2 L872.7,94.0 L873.0,94.5 L873.3,91.3 L873.7,91.8 L874.0,88.5 L874.3,89.8 L874.7,89.6 L875.0,92.5 L875.3,89.4 L875.7,87.4 L876.0,84.5 L876.3,84.9 L876.7,86.5 L877.0,86.5 L877.3,80.6 L877.7,78.2 L878.0,72.5 L878.3,73.3 L878.7,75.7 L879.0,76.5 L879.3,79.6 L879.7,81.5 L880.0,84.5 L880.3,85.4 L880.7,88.2 L881.0,88.5 L881.3,91.4 L881.7,92.2 L882.0,92.5 L882.3,91.4 L882.7,89.1 L883.0,88.5 L883.3,85.6 L883.7,87.5 L884.0,84.5 L884.3,88.6 L884.7,92.3 L885.0,94.5 L885.3,96.6 L885.7,100.2 L886.0,102.5 L886.3,102.2 L886.7,99.7 L887.0,96.5 L887.3,99.5 L887.7,101.1 L888.0,104.5 L888.3,102.2 L888.7,101.9 L889.0,98.5 L889.3,96.1 L889.7,95.2 L890.0,92.5 L890.3,93.5 L890.7,95.3 L891.0,94.5 L891.3,96.9 L891.7,96.4 L892.0,98.5 L892.3,95.4 L892.7,95.0 L893.0,94.5 L893.3,95.6 L893.7,97.5 L894.0,98.5 L894.3,99.0 L894.7,98.6 L895.0,96.5 L895.3,96.9 L895.7,101.7 L896.0,102.5 L896.3,105.0 L896.7,106.5 L897.0,106.5 L897.3,107.4 L897.7,107.0 L898.0,108.5 L898.3,110.4 L898.7,110.9 L899.0,110.5 L899.3,111.8 L899.7,113.3 L900.0,112.5 L900.3,113.3 L900.7,113.7 L901.0,116.5 L901.3,114.7 L901.7,113.6 L902.0,110.5 L902.3,110.1 L902.7,112.7 L903.0,112.5 L903.3,111.4 L903.7,106.2 L904.0,104.5 L904.3,108.2 L904.7,111.8 L905.0,114.5 L905.3,115.7 L905.7,116.1 L906.0,118.5 L906.3,114.3 L906.7,112.7 L907.0,108.5 L907.3,105.5 L907.7,100.4 L908.0,96.5 L908.3,95.0 L908.7,97.6 L909.0,96.5 L909.3,100.8 L909.7,102.2 L910.0,106.5 L910.3,108.8 L910.7,111.9 L911.0,112.5 L911.3,111.9 L911.7,108.6 L912.0,106.5 L912.3,109.7 L912.7,113.5 L913.0,116.5 L913.3,113.4 L913.7,111.4 L914.0,110.5 L914.3,115.4 L914.7,123.2 L915.0,128.5 L915.3,134.7 L915.7,142.1 L916.0,148.5 L916.3,155.5 L916.7,163.2 L917.0,170.5 L917.3,175.9 L917.7,182.2 L918.0,190.5 L918.3,186.3 L918.7,178.0 L919.0,172.5 L919.3,173.7 L919.7,178.3 L920.0,180.5 L920.3,177.5 L920.7,171.3 L921.0,168.5 L921.3,174.8 L921.7,179.9 L922.0,186.5 L922.3,192.6 L922.7,196.8 L923.0,204.5 L923.3,198.2 L923.7,196.9 L924.0,190.5 L924.3,204.5 L924.7,215.8 L925.0,228.5 L925.3,224.7 L925.7,219.6 L926.0,216.5 L926.3,220.2 L926.7,221.6 L927.0,224.5 L927.3,218.1 L927.7,209.5 L928.0,200.5 L928.3,198.3 L928.7,195.5 L929.0,190.5 L929.3,186.3 L929.7,182.2 L930.0,180.5 L930.3,181.4 L930.7,183.4 L931.0,186.5 L931.3,177.7 L931.7,170.2 L932.0,164.5 L932.3,174.0 L932.7,184.5 L933.0,192.5 L933.3,193.7 L933.7,196.8 L934.0,196.5 L934.3,200.0 L934.7,198.9 L935.0,202.5 L935.3,204.2 L935.7,204.8 L936.0,206.5 L936.3,207.8 L936.7,213.5 L937.0,214.5 L937.3,214.3 L937.7,216.1 L938.0,216.5 L938.3,211.0 L938.7,206.1 L939.0,198.5 L939.3,197.8 L939.7,195.4 L940.0,194.5 L940.3,196.3 L940.7,197.3 L941.0,200.5 L941.3,205.5 L941.7,208.9 L942.0,210.5 L942.3,213.5 L942.7,216.8 L943.0,222.5 L943.3,216.3 L943.7,211.3 L944.0,206.5 L944.3,211.3 L944.7,214.6 L945.0,216.5 L945.3,213.7 L945.7,206.9 L946.0,204.5 L946.3,206.9 L946.7,207.9 L947.0,208.5 L947.3,209.7 L947.7,211.6 L948.0,210.5 L948.3,206.9 L948.7,205.2 L949.0,204.5 L949.3,202.1 L949.7,199.4 L950.0,194.5 L950.3,200.5 L950.7,204.4 L951.0,210.5 L951.3,213.5 L951.7,216.8 L952.0,218.5 L952.3,211.7 L952.7,207.2 L953.0,202.5 L953.3,205.0 L953.7,207.8 L954.0,212.5 L954.3,214.4 L954.7,215.3 L955.0,218.5 L955.3,213.6 L955.7,209.2 L956.0,206.5 L956.3,210.5 L956.7,211.4 L957.0,216.5 L957.3,214.6 L957.7,210.1 L958.0,208.5 L958.3,208.8 L958.7,214.0 L959.0,214.5 L959.3,210.8 L959.7,210.7 L960.0,206.5 L960.3,198.2 L960.7,188.6 L961.0,177.5 L961.3,177.9 L961.7,180.6 L962.0,182.5 L962.3,185.0 L962.7,192.0 L963.0,194.5 L963.3,191.7 L963.7,187.0 L964.0,182.5 L964.3,185.0 L964.7,187.3 L965.0,190.5 L965.3,196.3 L965.7,199.8 L966.0,204.5 L966.3,204.3 L966.7,201.9 L967.0,202.5 L967.3,203.5 L967.7,204.9 L968.0,208.5 L968.3,208.6 L968.7,207.4 L969.0,206.5 L969.3,207.2 L969.7,211.8 L970.0,212.5 L970.3,213.0 L970.7,214.8 L971.0,216.5 L971.3,217.3 L971.7,219.7 L972.0,222.5 L972.3,227.7 L972.7,229.9 L973.0,234.5 L973.3,236.6 L973.7,241.1 L974.0,244.5 L974.3,241.8 L974.7,242.0 L975.0,238.5 L975.3,244.4 L975.7,254.9 L976.0,260.5 L976.3,254.2 L976.7,252.6 L977.0,246.5 L977.3,248.4 L977.7,248.1 L978.0,250.5 L978.3,249.1 L978.7,247.1 L979.0,246.5 L979.3,248.3 L979.7,250.8 L980.0,254.5 L980.3,252.0 L980.7,252.3 L981.0,248.5 L981.3,252.3 L981.7,254.0 L982.0,254.5 L982.3,251.7 L982.7,251.1 L983.0,250.5 L983.3,253.9 L983.7,252.9 L984.0,256.5 L984.3,256.0 L984.7,253.1 L985.0,252.5 L985.3,254.9 L985.7,252.1 L986.0,254.5 L986.3,258.3 L986.7,259.3 L987.0,262.5 L987.3,258.5 L987.7,255.4 L988.0,254.5 L988.3,253.0 L988.7,249.3 L989.0,246.5 L989.3,244.7 L989.7,244.9 L990.0,244.5 L990.3,240.6 L990.7,232.8 L991.0,228.5 L991.3,233.4 L991.7,236.5 L992.0,242.5 L992.3,236.0 L992.7,232.8 L993.0,226.5 L993.3,233.3 L993.7,237.4 L994.0,244.5 L994.3,243.7 L994.7,244.3 L995.0,246.5 L995.3,241.6 L995.7,235.8 L996.0,230.5 L996.3,225.7 L996.7,221.4 L997.0,218.5 L997.3,220.9 L997.7,223.2 L998.0,224.5 L998.3,230.3 L998.7,234.1 L999.0,238.5 L999.3,238.8 L999.7,239.6 L1000.0,242.5 L1000.3,240.7 L1000.7,236.8 L1001.0,234.5 L1001.3,236.6 L1001.7,235.6 L1002.0,238.5 L1002.3,238.3 L1002.7,235.2 L1003.0,234.5 L1003.3,233.1 L1003.7,230.5 L1004.0,226.5 L1004.3,227.8 L1004.7,227.4 L1005.0,230.5 L1005.3,233.3 L1005.7,233.1 L1006.0,234.5 L1006.3,236.5 L1006.7,235.0 L1007.0,236.5 L1007.3,237.4 L1007.7,241.7 L1008.0,242.5 L1008.3,243.4 L1008.7,244.0 L1009.0,246.5 L1009.3,247.4 L1009.7,249.5 L1010.0,250.5 L1010.3,246.7 L1010.7,246.6 L1011.0,244.5 L1011.3,245.0 L1011.7,245.9 L1012.0,246.5 L1012.3,243.8 L1012.7,244.6 L1013.0,242.5 L1013.3,245.6 L1013.7,247.8 L1014.0,248.5 L1014.3,244.5 L1014.7,242.6 L1015.0,238.5 L1015.3,235.4 L1015.7,234.1 L1016.0,230.5 L1016.3,227.6 L1016.7,229.2 L1017.0,226.5 L1017.3,230.8 L1017.7,231.8 L1018.0,234.5 L1018.3,233.2 L1018.7,231.9 L1019.0,230.5 L1019.3,222.6 L1019.6,214.5 L1020.0,214.8 L1020.4,218.5 L1020.7,220.7 L1021.0,218.5 L1021.3,218.9 L1021.6,220.5 L1022.0,219.1 L1022.3,219.6 L1022.6,221.6 L1023.0,220.5 L1023.3,215.5 L1023.7,212.4 L1024.0,210.5 L1024.3,209.2 L1024.7,205.4 L1025.0,204.5 L1025.3,202.1 L1025.7,203.5 L1026.0,202.5 L1026.3,203.4 L1026.7,203.9 L1027.0,204.5 L1027.3,204.6 L1027.7,201.7 L1028.0,202.5 L1028.3,205.2 L1028.7,205.9 L1029.0,206.5 L1029.3,208.2 L1029.7,211.8 L1030.0,216.5 L1030.3,217.1 L1030.7,217.8 L1031.0,218.5 L1031.3,212.4 L1031.7,206.5 L1032.0,202.5 L1032.3,200.8 L1032.7,198.5 L1033.0,198.5 L1033.3,198.2 L1033.7,198.5 L1034.0,196.5 L1034.3,199.9 L1034.7,206.1 L1035.0,210.5 L1035.3,212.1 L1035.7,210.6 L1036.0,212.5 L1036.3,215.0 L1036.7,216.7 L1037.0,216.5 L1037.3,218.1 L1037.7,220.2 L1038.0,222.5 L1038.3,226.4 L1038.7,227.9 L1039.0,230.5 L1039.3,228.1 L1039.7,228.1 L1040.0,224.5 L1040.3,228.2 L1040.7,229.3 L1041.0,232.5 L1041.3,230.9 L1041.7,230.6 L1042.0,230.5 L1042.3,231.6 L1042.7,234.9 L1043.0,234.5 L1043.3,233.6 L1043.7,232.0 L1044.0,228.5 L1044.3,226.3 L1044.7,223.1 L1045.0,218.5 L1045.3,214.2 L1045.7,213.2 L1046.0,210.5 L1046.3,210.8 L1046.7,209.4 L1047.0,206.5 L1047.3,204.3 L1047.7,203.6 L1048.0,202.5 L1048.3,200.3 L1048.7,196.7 L1049.0,194.5 L1049.3,193.9 L1049.7,191.6 L1050.0,192.5 L1050.3,194.3 L1050.7,196.5 L1051.0,198.5 L1051.3,193.4 L1051.7,190.5 L1052.0,188.5 L1052.3,188.9 L1052.7,186.8 L1053.0,184.5 L1053.5,165.5 L1053.8,164.7 L1054.2,161.3 L1054.5,158.5 L1054.8,159.7 L1055.2,160.1 L1055.5,160.1 L1055.8,157.2 L1056.2,159.4 L1056.5,159.0 L1057.0,140.5 L1057.3,140.7 L1057.7,143.1 L1058.0,143.5 L1058.3,144.9 L1058.7,148.0 L1059.0,151.5 L1059.3,152.6 L1059.7,153.4 L1060.0,156.5 L1060.3,152.9 L1060.7,148.9 L1061.0,145.5 L1061.5,133.5 L1061.8,135.1 L1062.1,132.7 L1062.4,132.8 L1062.7,134.0 L1063.0,133.5 L1063.3,136.8 L1063.7,143.2 L1064.0,147.5 L1064.3,140.1 L1064.7,129.5 L1065.0,120.5 L1065.3,119.0 L1065.7,119.0 L1066.0,118.5 L1066.3,122.0 L1066.7,123.9 L1067.0,128.5 L1067.4,131.1 L1067.8,136.5 L1068.2,129.7 L1068.5,125.5 L1068.8,124.1 L1069.2,123.8 L1069.5,123.5 L1069.8,122.7 L1070.2,122.6 L1070.5,122.0 L1070.8,123.7 L1071.2,124.7 L1071.5,123.5 L1071.8,126.9 L1072.2,129.8 L1072.5,132.5 L1073.0,144.5 L1073.4,142.0 L1073.8,138.5 L1074.2,138.4 L1074.5,140.5 L1075.0,136.5 L1075.3,140.3 L1075.7,142.4 L1076.0,145.5 L1076.3,142.0 L1076.7,138.6 L1077.0,134.5 L1077.3,136.4 L1077.7,137.8 L1078.0,140.5 L1078.3,144.2 L1078.7,148.8 L1079.0,154.5 L1079.3,151.1 L1079.6,147.3 L1079.9,144.6 L1080.2,139.1 L1080.5,137.5 L1080.8,134.0 L1081.2,132.8 L1081.5,128.5 L1081.8,126.9 L1082.2,127.4 L1082.5,126.5 L1082.8,127.1 L1083.2,127.1 L1083.5,128.5 L1083.8,127.3 L1084.2,121.8 L1084.5,119.5 L1084.8,121.1 L1085.2,119.6 L1085.5,121.5 L1085.8,120.9 L1086.2,124.8 L1086.5,124.5 L1086.8,120.0 L1087.2,114.3 L1087.5,111.5 L1087.8,111.1 L1088.1,111.3 L1088.4,112.3 L1088.7,110.1 L1089.0,111.5 L1089.3,112.5 L1089.7,117.2 L1090.0,117.5 L1090.3,117.4 L1090.7,114.3 L1091.0,114.5 L1091.3,111.9 L1091.7,110.0 L1092.0,108.5 L1092.3,107.3 L1092.7,105.3 L1093.0,103.0 L1093.3,106.1 L1093.7,107.8 L1094.0,108.5 L1094.3,110.2 L1094.7,112.7 L1095.0,113.5 L1095.5,123.5 L1095.8,124.7 L1096.2,125.1 L1096.5,124.5 L1097.0,121.5 L1097.3,123.4 L1097.7,126.5 L1098.0,127.5 L1098.3,129.9 L1098.7,132.3 L1099.0,132.5 L1099.5,140.5 L1100.0,138.5 L1100.3,134.8 L1100.7,135.2 L1101.0,131.5 L1101.3,128.4 L1101.7,129.8 L1102.0,127.5 L1102.3,128.8 L1102.7,129.5 L1103.0,130.5 L1103.3,134.2 L1103.7,134.8 L1104.0,136.5 L1104.3,134.9 L1104.7,134.9 L1105.0,132.5 L1105.5,144.5 L1106.0,129.5 L1106.3,130.8 L1106.7,129.9 L1107.0,129.5 L1107.3,131.1 L1107.7,133.3 L1108.0,135.5 L1108.3,136.7 L1108.7,139.0 L1109.0,139.5 L1109.3,141.8 L1109.7,145.1 L1110.0,148.5 L1110.3,145.7 L1110.7,142.1 L1111.0,139.5 L1111.3,139.2 L1111.7,141.2 L1112.0,140.5 L1112.3,142.1 L1112.7,141.2 L1113.0,141.5 L1113.3,142.6 L1113.7,143.0 L1114.0,145.5 L1114.3,144.4 L1114.6,143.4 L1114.9,144.6 L1115.2,144.2 L1115.5,143.5 L1115.8,144.0 L1116.1,149.0 L1116.4,148.9 L1116.7,152.7 L1117.0,153.5 L1117.3,153.9 L1117.6,153.6 L1117.9,150.0 L1118.2,150.0 L1118.5,149.5 L1118.8,152.2 L1119.1,150.1 L1119.4,151.5 L1119.7,154.5 L1120.0,155.5 L1120.3,157.5 L1120.7,161.0 L1121.0,161.5 L1121.3,163.7 L1121.6,164.0 L1121.9,166.9 L1122.2,166.4 L1122.5,167.5 L1122.8,164.2 L1123.2,161.5 L1123.5,157.5 L1123.8,156.5 L1124.2,155.8 L1124.5,156.1 L1124.8,154.6 L1125.2,156.2 L1125.5,154.0 L1125.8,155.8 L1126.2,156.4 L1126.5,157.5 L1126.8,157.5 L1127.1,159.8 L1127.4,161.3 L1127.7,163.3 L1128.0,164.5 L1128.3,164.0 L1128.6,164.3 L1128.9,163.8 L1129.2,161.3 L1129.5,160.5 L1129.8,161.0 L1130.2,162.3 L1130.5,162.5 L1130.8,166.0 L1131.2,165.3 L1131.5,167.5 L1132.0,170.5 L1132.3,171.9 L1132.7,174.3 L1133.0,174.5 L1133.3,176.0 L1133.7,179.2 L1134.0,182.5 L1134.5,180.5 L1134.8,180.6 L1135.1,178.5 L1135.4,175.7 L1135.7,172.7 L1136.0,172.5 L1136.3,175.3 L1136.7,175.9 L1137.0,176.5 L1137.3,179.0 L1137.7,180.9 L1138.0,180.5 L1138.3,183.9 L1138.7,184.2 L1139.0,186.5 L1139.3,184.6 L1139.7,184.4 L1140.0,184.5 L1140.3,187.2 L1140.7,189.9 L1141.0,192.5 L1141.3,189.4 L1141.7,187.4 L1142.0,186.5 L1142.3,185.0 L1142.7,182.9 L1143.0,180.5 L1143.3,177.3 L1143.7,176.9 L1144.0,172.5 L1144.3,172.3 L1144.7,169.5 L1145.0,170.5 L1145.3,172.2 L1145.7,175.5 L1146.0,176.5 L1146.3,177.1 L1146.7,179.9 L1147.0,180.5 L1147.3,180.0 L1147.7,182.5 L1148.0,184.5 L1148.3,187.1 L1148.7,187.5 L1149.0,188.5 L1149.3,189.8 L1149.7,188.7 L1150.0,190.5 L1150.3,191.8 L1150.7,193.4 L1151.0,194.5 L1151.3,192.3 L1151.7,192.4 L1152.0,190.5 L1152.3,191.3 L1152.7,193.6 L1153.0,192.5 L1153.3,192.8 L1153.7,192.2 L1154.0,192.5 L1154.3,191.8 L1154.7,192.6 L1155.0,194.5 L1155.3,196.1 L1155.7,194.4 L1156.0,196.5 L1156.3,195.1 L1156.7,195.3 L1157.0,196.5 L1157.3,197.9 L1157.7,200.3 L1158.0,200.5 L1158.3,201.6 L1158.7,202.9 L1159.0,202.5 L1159.3,202.3 L1159.7,203.4 L1160.0,206.5 L1160.3,208.1 L1160.7,207.2 L1161.0,208.5 L1161.3,211.9 L1161.7,213.3 L1162.0,216.5 L1162.3,218.0 L1162.7,221.0 L1163.0,224.5 L1163.3,225.1 L1163.7,230.0 L1164.0,230.5 L1164.3,231.5 L1164.7,231.3 L1165.0,232.5 L1165.3,231.7 L1165.7,230.8 L1166.0,230.5 L1166.3,230.9 L1166.7,235.9 L1167.0,236.5 L1167.3,238.8 L1167.7,242.2 L1168.0,242.5 L1168.3,244.3 L1168.7,246.9 L1169.0,248.5 L1169.3,246.9 L1169.7,245.5 L1170.0,246.5 L1170.3,249.4 L1170.7,250.4 L1171.0,250.5 L1171.3,251.2 L1171.7,254.6 L1172.0,254.5 L1172.3,259.0 L1172.7,260.5 L1173.0,264.5 L1173.3,260.9 L1173.7,258.2 L1174.0,252.5 L1174.3,250.5 L1174.7,250.1 L1175.0,246.5 L1175.3,246.2 L1175.7,247.4 L1176.0,248.5 L1176.3,246.0 L1176.7,240.8 L1177.0,238.5 L1177.3,238.5 L1177.7,241.2 L1178.0,240.5 L1178.3,237.1 L1178.7,234.9 L1179.0,230.5 L1179.3,231.6 L1179.7,233.3 L1180.0,236.5 L1180.3,237.3 L1180.7,238.0 L1181.0,240.5 L1181.3,244.2 L1181.7,243.7 L1182.0,246.5 L1182.3,248.7 L1182.7,249.1 L1183.0,252.5 L1183.3,250.6 L1183.7,248.1 L1184.0,246.5 L1184.3,246.8 L1184.7,246.3 L1185.0,248.5 L1185.3,245.1 L1185.7,245.7 L1186.0,242.5 L1186.3,243.3 L1186.7,244.2 L1187.0,246.5 L1187.3,244.7 L1187.7,244.4 L1188.0,244.5 L1188.3,244.9 L1188.7,245.5 L1189.0,248.5 L1189.3,246.4 L1189.7,242.6 L1190.0,240.5 L1190.3,234.6 L1190.7,231.9 L1191.0,226.5 L1191.3,221.7 L1191.7,219.0 L1192.0,216.5 L1192.3,216.4 L1192.7,212.5 L1193.0,212.5 L1193.3,214.3 L1193.7,217.7 L1194.0,218.5 L1194.3,218.3 L1194.7,214.6 L1195.0,214.5 L1195.3,216.0 L1195.7,219.3 L1196.0,220.5 L1196.3,223.4 L1196.7,228.8 L1197.0,230.5 L1197.3,222.8 L1197.7,218.8 L1198.0,210.5 L1198.3,209.2 L1198.7,206.9 L1199.0,206.5 L1199.3,209.0 L1199.7,210.5 L1200.0,214.5 L1200.3,212.6 L1200.7,208.3 L1201.0,206.5 L1201.3,211.3 L1201.7,213.5 L1202.0,216.5 L1202.3,212.0 L1202.7,207.6 L1203.0,204.5 L1203.3,204.2 L1203.7,202.1 L1204.0,202.5 L1204.3,205.8 L1204.7,205.1 L1205.0,208.5 L1205.3,207.2 L1205.7,206.0 L1206.0,204.5 L1206.3,205.7 L1206.7,209.5 L1207.0,210.5 L1207.3,213.4 L1207.7,217.7 L1208.0,220.5 L1208.3,222.1 L1208.7,222.5 L1209.0,224.5 L1209.3,224.8 L1209.7,224.3 L1210.0,226.5 L1210.3,226.7 L1210.7,230.4 L1211.0,230.5 L1211.3,231.9 L1211.7,235.1 L1212.0,236.5 L1212.3,236.4 L1212.7,239.4 L1213.0,240.5 L1213.3,239.3 L1213.7,239.2 L1214.0,238.5 L1214.3,236.4 L1214.7,234.3 L1215.0,234.5 L1215.3,234.5 L1215.7,234.8 L1216.0,236.5 L1216.3,233.8 L1216.7,234.6 L1217.0,232.5 L1217.3,232.4 L1217.7,233.5 L1218.0,234.5 L1218.3,235.3 L1218.7,234.2 L1219.0,232.5 L1219.3,235.2 L1219.7,236.5 L1220.0,236.5 L1220.3,235.8 L1220.7,237.0 L1221.0,238.5 L1221.3,235.5 L1221.7,236.5 L1222.0,234.5 L1222.3,237.1 L1222.7,238.0 L1223.0,240.5 L1223.3,239.5 L1223.7,239.7 L1224.0,238.5 L1224.3,238.6 L1224.7,236.3 L1225.0,236.5 L1225.3,239.1 L1225.7,238.6 L1226.0,240.5 L1226.3,241.6 L1226.7,240.7 L1227.0,242.5 L1227.3,239.8 L1227.7,241.3 L1228.0,238.5 L1228.3,241.3 L1228.7,243.3 L1229.0,244.5 L1229.3,240.2 L1229.7,237.5 L1230.0,236.5 L1230.3,237.3 L1230.7,239.4 L1231.0,242.5 L1231.3,243.1 L1231.7,244.7 L1232.0,246.5 L1232.3,246.2 L1232.7,248.5 L1233.0,250.5 L1233.3,254.3 L1233.7,256.0 L1234.0,260.5 L1234.3,257.7 L1234.7,252.8 L1235.0,248.5 L1235.3,252.6 L1235.7,254.3 L1236.0,258.5 L1236.3,257.6 L1236.7,257.8 L1237.0,256.5 L1237.3,258.0 L1237.7,258.7 L1238.0,262.5 L1238.3,263.0 L1238.7,262.2 L1239.0,260.5 L1239.3,261.1 L1239.7,261.5 L1240.0,264.5 L1240.3,265.1 L1240.7,263.6 L1241.0,262.5 L1241.3,261.5 L1241.7,262.9 L1242.0,264.5 L1242.3,263.8 L1242.7,266.9 L1243.0,266.5 L1243.3,265.5 L1243.7,268.0 L1244.0,266.5 L1244.3,268.1 L1244.7,266.3 L1245.0,268.5 L1245.3,269.2 L1245.7,268.1 L1246.0,268.5 L1246.3,270.1 L1246.7,271.0 L1247.0,270.5 L1247.3,271.0 L1247.7,271.7 L1248.0,274.5 L1248.3,278.1 L1248.7,278.2 L1249.0,280.5 L1249.3,284.0 L1249.7,285.2 L1250.0,286.5 L1250.3,288.0 L1250.7,289.0 L1251.0,288.5 L1251.3,289.6 L1251.7,289.7 L1252.0,290.5 L1252.3,288.2 L1252.7,289.9 L1253.0,288.5 L1253.3,287.6 L1253.7,287.2 L1254.0,286.5 L1254.3,287.4 L1254.7,283.8 L1255.0,284.5 L1255.3,284.8 L1255.7,281.5 L1256.0,282.5 L1256.3,282.6 L1256.7,282.3 L1257.0,280.5 L1257.3,281.0 L1257.7,283.3 L1258.0,284.5 L1258.3,285.5 L1258.7,283.7 L1259.0,282.5 L1259.3,283.3 L1259.7,282.9 L1260.0,284.5 L1260.3,283.6 L1260.7,285.3 L1261.0,286.5 L1261.3,284.8 L1261.7,282.8 L1262.0,282.5 L1262.3,282.5 L1262.7,282.5 L1263.0,284.5 L1263.3,283.9 L1263.7,282.4 L1264.0,280.5 L1264.3,278.9 L1264.7,278.2 L1265.0,278.5 L1265.3,279.2 L1265.7,279.6 L1266.0,280.5 L1266.3,284.7 L1266.7,285.3 L1267.0,288.5 L1267.3,289.8 L1267.7,293.9 L1268.0,294.5 L1268.3,291.9 L1268.7,292.1 L1269.0,290.5 L1269.3,290.6 L1269.7,293.0 L1270.0,292.5 L1270.3,293.3 L1270.7,294.8 L1271.0,294.5 L1271.3,292.6 L1271.7,293.8 L1272.0,292.5 L1272.3,294.2 L1272.7,295.0 L1273.0,296.5 L1273.3,296.8 L1273.7,296.4 L1274.0,294.5 L1274.3,295.1 L1274.7,297.7 L1275.0,300.5 L1275.3,298.7 L1275.7,296.8 L1276.0,296.5 L1276.3,296.9 L1276.7,299.7 L1277.0,302.5 L1277.3,302.1 L1277.7,304.6 L1278.0,304.5 L1278.3,307.6 L1278.7,309.8 L1279.0,314.5 L1279.3,309.2 L1279.7,305.1 L1280.0,300.5 L1280.3,299.3 L1280.7,298.0 L1281.0,298.5 L1281.3,300.3 L1281.7,303.4 L1282.0,308.5 L1282.3,307.6 L1282.7,304.1 L1283.0,300.5 L1283.3,301.0 L1283.7,305.3 L1284.0,306.5 L1284.3,306.9 L1284.7,304.1 L1285.0,302.5 L1285.3,303.1 L1285.7,306.5 L1286.0,308.5 L1286.3,307.6 L1286.7,306.0 L1287.0,306.5 L1287.3,308.0 L1287.7,307.4 L1288.0,310.5 L1288.3,312.7 L1288.7,312.4 L1289.0,312.5 L1289.3,311.6 L1289.7,311.4 L1290.0,308.5 L1290.3,306.4 L1290.7,302.3 L1291.0,300.5 L1291.3,298.3 L1291.7,296.5 L1292.0,296.5 L1292.3,292.8 L1292.7,293.5 L1293.0,290.5 L1293.3,293.7 L1293.7,293.8 L1294.0,296.5 L1294.3,298.7 L1294.7,303.7 L1295.0,306.5 L1295.3,307.1 L1295.7,306.7 L1296.0,304.5 L1296.3,303.3 L1296.7,305.5 L1297.0,304.5 L1297.3,303.0 L1297.7,300.0 L1298.0,296.5 L1298.3,294.5 L1298.7,292.7 L1299.0,292.5 L1299.3,295.0 L1299.7,294.5 L1300.0,296.5 L1300.3,294.0 L1300.7,292.7 L1301.0,290.5 L1301.3,290.0 L1301.7,291.7 L1302.0,290.5 L1302.3,288.2 L1302.7,286.2 L1303.0,286.5 L1303.3,279.4 L1303.7,272.3 L1304.0,264.5 L1304.3,265.0 L1304.7,263.9 L1305.0,262.5 L1305.3,263.3 L1305.7,262.8 L1306.0,260.5 L1306.3,259.1 L1306.7,257.8 L1307.0,256.5 L1307.3,256.6 L1307.7,258.4 L1308.0,260.5 L1308.3,259.5 L1308.7,256.3 L1309.0,256.5 L1309.3,255.8 L1309.7,252.6 L1310.0,252.5 L1310.3,251.6 L1310.7,252.9 L1311.0,250.5 L1311.3,249.7 L1311.7,250.2 L1312.0,252.5 L1312.3,252.9 L1312.7,252.7 L1313.0,254.5 L1313.3,256.6 L1313.7,255.4 L1314.0,258.5 L1314.3,261.1 L1314.7,262.4 L1315.0,262.5 L1315.3,264.9 L1315.7,264.9 L1316.0,266.5 L1316.3,266.4 L1316.7,268.4 L1317.0,268.5 L1317.3,267.2 L1317.7,265.5 L1318.0,264.5 L1318.3,261.3 L1318.7,258.9 L1319.0,256.5 L1319.3,256.4 L1319.7,256.3 L1320.0,254.5 L1320.3,257.3 L1320.7,256.0 L1321.0,258.5 L1321.3,258.4 L1321.7,259.6 L1322.0,260.5 L1322.3,262.1 L1322.7,262.6 L1323.0,264.5 L1323.3,262.7 L1323.7,261.7 L1324.0,262.5 L1324.3,262.5 L1324.7,263.7 L1325.0,264.5 L1325.3,267.5 L1325.7,268.6 L1326.0,268.5 L1326.3,270.5 L1326.7,271.5 L1327.0,270.5 L1327.3,270.2 L1327.7,266.9 L1328.0,264.5 L1328.3,265.0 L1328.7,261.6 L1329.0,262.5 L1329.3,264.5 L1329.7,265.6 L1330.0,266.5 L1330.3,267.1 L1330.7,269.4 L1331.0,270.5 L1331.3,272.8 L1331.7,271.8 L1332.0,272.5 L1332.3,273.7 L1332.7,273.1 L1333.0,274.5 L1333.3,275.3 L1333.7,278.6 L1334.0,278.5 L1334.3,278.1 L1334.7,280.0 L1335.0,282.5 L1335.3,283.8 L1335.7,283.6 L1336.0,284.5 L1336.3,283.7 L1336.7,286.4 L1337.0,286.5 L1337.3,285.4 L1337.7,285.5 L1338.0,284.5 L1338.3,283.5 L1338.7,283.3 L1339.0,282.5 L1339.3,283.4 L1339.7,283.5 L1340.0,284.5 L1340.3,282.4 L1340.7,282.0 L1341.0,282.5 L1341.3,285.9 L1341.7,286.7 L1342.0,288.5 L1342.3,288.4 L1342.7,292.5 L1343.0,292.5 L1343.3,292.3 L1343.7,292.4 L1344.0,294.5 L1344.3,295.9 L1344.7,296.3 L1345.0,298.5 L1345.3,299.1 L1345.7,300.0 L1346.0,300.5 L1346.3,300.2 L1346.7,302.1 L1347.0,302.5 L1347.3,302.4 L1347.7,305.2 L1348.0,306.5 L1348.3,307.5 L1348.7,306.3 L1349.0,308.5 L1349.3,308.8 L1349.7,308.3 L1350.0,310.5 L1350.3,305.6 L1350.7,302.5 L1351.0,296.5 L1351.3,294.7 L1351.7,293.3 L1352.0,290.5 L1352.3,290.8 L1352.7,287.8 L1353.0,288.5 L1353.3,291.6 L1353.7,292.0 L1354.0,292.5 L1354.3,293.1 L1354.7,297.7 L1355.0,298.5 L1355.3,296.8 L1355.7,294.6 L1356.0,294.5 L1356.3,298.2 L1356.7,298.7 L1357.0,300.5 L1357.3,300.8 L1357.7,297.9 L1358.0,298.5 L1358.3,298.8 L1358.7,295.6 L1359.0,296.5 L1359.3,296.9 L1359.7,298.7 L1360.0,300.5 L1360.3,299.4 L1360.7,302.2 L1361.0,302.5 L1361.3,302.1 L1361.7,303.1 L1362.0,304.5 L1362.3,306.6 L1362.7,306.9 L1363.0,308.5 L1363.3,309.2 L1363.7,307.6 L1364.0,306.5 L1364.3,309.2 L1364.7,309.4 L1365.0,310.5 L1365.3,312.7 L1365.7,313.2 L1366.0,312.5 L1366.3,309.3 L1366.7,309.4 L1367.0,306.5 L1367.3,306.6 L1367.7,308.8 L1368.0,308.5 L1368.3,307.8 L1368.7,307.0 L1369.0,304.5 L1369.3,302.5 L1369.7,302.7 L1370.0,302.5 L1370.3,304.0 L1370.7,305.4 L1371.0,304.5 L1371.3,307.3 L1371.7,306.9 L1372.0,310.5 L1372.3,311.5 L1372.7,310.4 L1373.0,312.5 L1373.3,310.7 L1373.7,309.6 L1374.0,306.5 L1374.3,305.8 L1374.7,309.4 L1375.0,308.5 L1375.3,311.1 L1375.7,311.6 L1376.0,314.5 L1376.3,314.7 L1376.7,317.0 L1377.0,318.5 L1377.3,321.1 L1377.7,321.5 L1378.0,322.5 L1378.3,322.4 L1378.7,323.4 L1379.0,326.5 L1379.3,325.8 L1379.7,328.9 L1380.0,328.5 L1380.3,328.0 L1380.7,330.0 L1381.0,330.5 L1381.3,331.1 L1381.7,333.8 L1382.0,334.5 L1382.3,334.7 L1382.7,334.6 L1383.0,336.5 L1383.3,338.5 L1383.7,338.0 L1384.0,338.5 L1384.3,338.5 L1384.7,338.3 L1385.0,336.5 L1385.3,336.8 L1385.7,332.1 L1386.0,332.5 L1386.3,333.9 L1386.7,335.2 L1387.0,338.5 L1387.3,339.2 L1387.7,341.2 L1388.0,340.5 L1388.3,342.2 L1388.7,340.2 L1389.0,342.5 L1389.3,340.0 L1389.7,341.0 L1390.0,338.5 L1390.3,338.5 L1390.7,336.8 L1391.0,336.5 L1391.3,337.1 L1391.7,336.6 L1392.0,338.5 L1392.3,338.4 L1392.7,335.4 L1393.0,334.5 L1393.3,335.2 L1393.7,333.6 L1394.0,332.5 L1394.3,327.6 L1394.7,325.2 L1395.0,322.5 L1395.6,309.5 L1395.9,309.5 L1396.3,312.9 L1396.6,312.5 L1396.9,315.3 L1397.3,315.9 L1397.7,318.8 L1398.0,322.5 L1398.3,324.7 L1398.7,327.7 L1399.0,330.5 L1399.3,330.1 L1399.7,328.8 L1400.0,328.5 L1400.3,328.6 L1400.7,328.1 L1401.0,330.5 L1401.3,331.5 L1401.7,331.2 L1402.0,332.5 L1402.3,331.4 L1402.7,333.7 L1403.0,334.5 L1403.3,337.6 L1403.7,335.5 L1404.0,338.5 L1404.3,338.6 L1404.7,341.8 L1405.0,342.5 L1405.3,342.3 L1405.7,343.0 L1406.0,344.5 L1406.3,343.8 L1406.7,342.3 L1407.0,342.5 L1407.3,344.1 L1407.7,345.3 L1408.0,346.5 L1408.3,347.5 L1408.7,346.9 L1409.0,344.5 L1409.3,344.8 L1409.7,348.7 L1410.0,350.5 L1410.3,348.8 L1410.7,346.5 L1411.0,342.5 L1411.3,342.8 L1411.7,341.6 L1412.0,340.5 L1412.3,343.7 L1412.7,345.3 L1413.0,348.5 L1413.3,347.0 L1413.7,348.2 L1414.0,346.5 L1414.3,346.5 L1414.7,345.4 L1415.0,342.5 L1415.3,342.5 L1415.7,340.5 L1416.0,340.5 L1416.3,343.4 L1416.7,345.4 L1417.0,346.5 L1417.3,347.2 L1417.7,348.3 L1418.0,348.5 L1418.3,348.6 L1418.7,350.0 L1419.0,350.5 L1419.3,350.2 L1419.7,348.9 L1420.0,350.5 L1420.3,350.6 L1420.7,351.2 L1421.0,352.5 L1421.3,355.6 L1421.7,355.1 L1422.0,356.5 L1422.3,357.4 L1422.7,358.2 L1423.0,360.5 L1423.3,360.2 L1423.7,361.3 L1424.0,362.5 L1424.3,361.9 L1424.7,362.1 L1425.0,364.5 L1425.3,366.5 L1425.7,365.7 L1426.0,366.5 L1426.3,367.6 L1426.7,369.4 L1427.0,370.5 L1427.3,369.1 L1427.7,368.0 L1428.0,368.5 L1428.3,365.6 L1428.7,365.1 L1429.0,364.5 L1429.3,364.5 L1429.7,366.6 L1430.0,366.5 L1430.3,366.0 L1430.7,366.7 L1431.0,364.5 L1431.3,364.6 L1431.7,367.3 L1432.0,366.5 L1432.3,368.1 L1432.7,367.7 L1433.0,370.5" fill="none" stroke="#4973ad" stroke-width="2.6" stroke-linejoin="round" stroke-linecap="round"/><line x1="101" x2="1434" y1="397.7" y2="397.7" stroke="#000" stroke-width="2.2"/><line x1="101" x2="1434" y1="454.5" y2="454.5" stroke="#ccd6eb" stroke-width="1"/><line x1="206.5" x2="206.5" y1="454" y2="466" stroke="#ccd6eb" stroke-width="1"/><text x="207.4" y="479.2" text-anchor="middle" font-family="Liberation Sans, sans-serif" font-size="15.3" fill="#333333" stroke="#333333" stroke-width="0.1">2002</text><line x1="354.5" x2="354.5" y1="454" y2="466" stroke="#ccd6eb" stroke-width="1"/><text x="355.0" y="479.2" text-anchor="middle" font-family="Liberation Sans, sans-serif" font-size="15.3" fill="#333333" stroke="#333333" stroke-width="0.1">2004</text><line x1="502.5" x2="502.5" y1="454" y2="466" stroke="#ccd6eb" stroke-width="1"/><text x="502.8" y="479.2" text-anchor="middle" font-family="Liberation Sans, sans-serif" font-size="15.3" fill="#333333" stroke="#333333" stroke-width="0.1">2006</text><line x1="649.5" x2="649.5" y1="454" y2="466" stroke="#ccd6eb" stroke-width="1"/><text x="650.4" y="479.2" text-anchor="middle" font-family="Liberation Sans, sans-serif" font-size="15.3" fill="#333333" stroke="#333333" stroke-width="0.1">2008</text><line x1="797.5" x2="797.5" y1="454" y2="466" stroke="#ccd6eb" stroke-width="1"/><text x="798.2" y="479.2" text-anchor="middle" font-family="Liberation Sans, sans-serif" font-size="15.3" fill="#333333" stroke="#333333" stroke-width="0.1">2010</text><line x1="945.5" x2="945.5" y1="454" y2="466" stroke="#ccd6eb" stroke-width="1"/><text x="945.8" y="479.2" text-anchor="middle" font-family="Liberation Sans, sans-serif" font-size="15.3" fill="#333333" stroke="#333333" stroke-width="0.1">2012</text><line x1="1092.5" x2="1092.5" y1="454" y2="466" stroke="#ccd6eb" stroke-width="1"/><text x="1093.6" y="479.2" text-anchor="middle" font-family="Liberation Sans, sans-serif" font-size="15.3" fill="#333333" stroke="#333333" stroke-width="0.1">2014</text><line x1="1240.5" x2="1240.5" y1="454" y2="466" stroke="#ccd6eb" stroke-width="1"/><text x="1241.2" y="479.2" text-anchor="middle" font-family="Liberation Sans, sans-serif" font-size="15.3" fill="#333333" stroke="#333333" stroke-width="0.1">2016</text><line x1="1388.5" x2="1388.5" y1="454" y2="466" stroke="#ccd6eb" stroke-width="1"/><text x="1389.0" y="479.2" text-anchor="middle" font-family="Liberation Sans, sans-serif" font-size="15.3" fill="#333333" stroke="#333333" stroke-width="0.1">2018</text><text x="82.6" y="70.9" text-anchor="end" font-family="Liberation Sans, sans-serif" font-size="15.4" fill="#333333" stroke="#333333" stroke-width="0.1">3.0</text><text x="82.6" y="126.7" text-anchor="end" font-family="Liberation Sans, sans-serif" font-size="15.4" fill="#333333" stroke="#333333" stroke-width="0.1">2.5</text><text x="82.6" y="182.1" text-anchor="end" font-family="Liberation Sans, sans-serif" font-size="15.4" fill="#333333" stroke="#333333" stroke-width="0.1">2.0</text><text x="82.6" y="237.9" text-anchor="end" font-family="Liberation Sans, sans-serif" font-size="15.4" fill="#333333" stroke="#333333" stroke-width="0.1">1.5</text><text x="82.6" y="293.1" text-anchor="end" font-family="Liberation Sans, sans-serif" font-size="15.4" fill="#333333" stroke="#333333" stroke-width="0.1">1.0</text><text x="82.6" y="348.8" text-anchor="end" font-family="Liberation Sans, sans-serif" font-size="15.4" fill="#333333" stroke="#333333" stroke-width="0.1">0.5</text><text x="82.6" y="403.9" text-anchor="end" font-family="Liberation Sans, sans-serif" font-size="15.4" fill="#333333" stroke="#333333" stroke-width="0.1">0.0</text><text x="82.6" y="459.8" text-anchor="end" font-family="Liberation Sans, sans-serif" font-size="15.4" fill="#333333" stroke="#333333" stroke-width="0.1">-0.5</text><text transform="translate(31.7,259.2) rotate(-90)" text-anchor="middle" font-family="Liberation Sans, sans-serif" font-size="15.5" fill="#333333" stroke="#333333" stroke-width="0.1">Percent</text><rect x="860.5" y="496" width="555.5" height="4" fill="#bfcbd9"/><line x1="101" x2="1434" y1="496.5" y2="496.5" stroke="#e2dfcc" stroke-width="1" stroke-dasharray="1 1"/><rect x="1148" y="498.5" width="15" height="1.5" fill="#4a74b0"/><rect x="1180" y="498.5" width="15" height="1.5" fill="#4a74b0"/><line x1="148" x2="168" y1="27" y2="27" stroke="#4973ad" stroke-width="2.3"/><text x="173.5" y="33" font-family="Liberation Sans, sans-serif" font-size="15.5" letter-spacing="0.1" fill="#333333" stroke="#333333" stroke-width="0.35">10-Year Treasury Constant Maturity Minus 2-Year Treasury Constant Maturity</text><rect x="114" y="15.3" width="27.4" height="25" fill="#f3f5f8"/><polygon points="114,31.5 119,27.4 123.8,31.5 129.2,23.9 133.7,25.5 141.4,16.2 141.4,40.3 114,40.3" fill="#d3deec"/><polyline points="114,31.5 119,27.4 123.8,31.5 129.2,23.9 133.7,25.5 140.6,16.8" fill="none" stroke="#5a82bb" stroke-width="1.7"/><polyline points="114.2,36.4 119.6,33.2 124.1,35.7 129.2,32.2 134.4,34.4 140.1,24.8" fill="none" stroke="#d9a04a" stroke-width="1.8"/><polyline points="114.2,36.4 119.6,33.2 124.1,35.7 129.2,32.2 134.4,34.4 140.1,24.8" fill="none" stroke="#4a3a30" stroke-width="1.1" stroke-dasharray="1.2 1"/><path d="M1429,22.8 V18.6 H1433.2 M1429.2,18.8 L1431.6,21.2 M1437.2,18.6 H1441.4 V22.8 M1441.2,18.8 L1438.8,21.2 M1429,26.2 V30.4 H1433.2 M1437.2,30.4 H1441.4 V26.2" fill="none" stroke="#222" stroke-width="1.6"/><text x="0" y="0" transform="translate(10.2,40.3) scale(1.06,1)" font-family="Liberation Sans, sans-serif" font-weight="bold" font-size="34.5" fill="#111" stroke="#111" stroke-width="1.8" letter-spacing="-0.4">FRED</text><circle cx="107.5" cy="39.5" r="1.2" fill="#555"/></svg>
</body></html>
